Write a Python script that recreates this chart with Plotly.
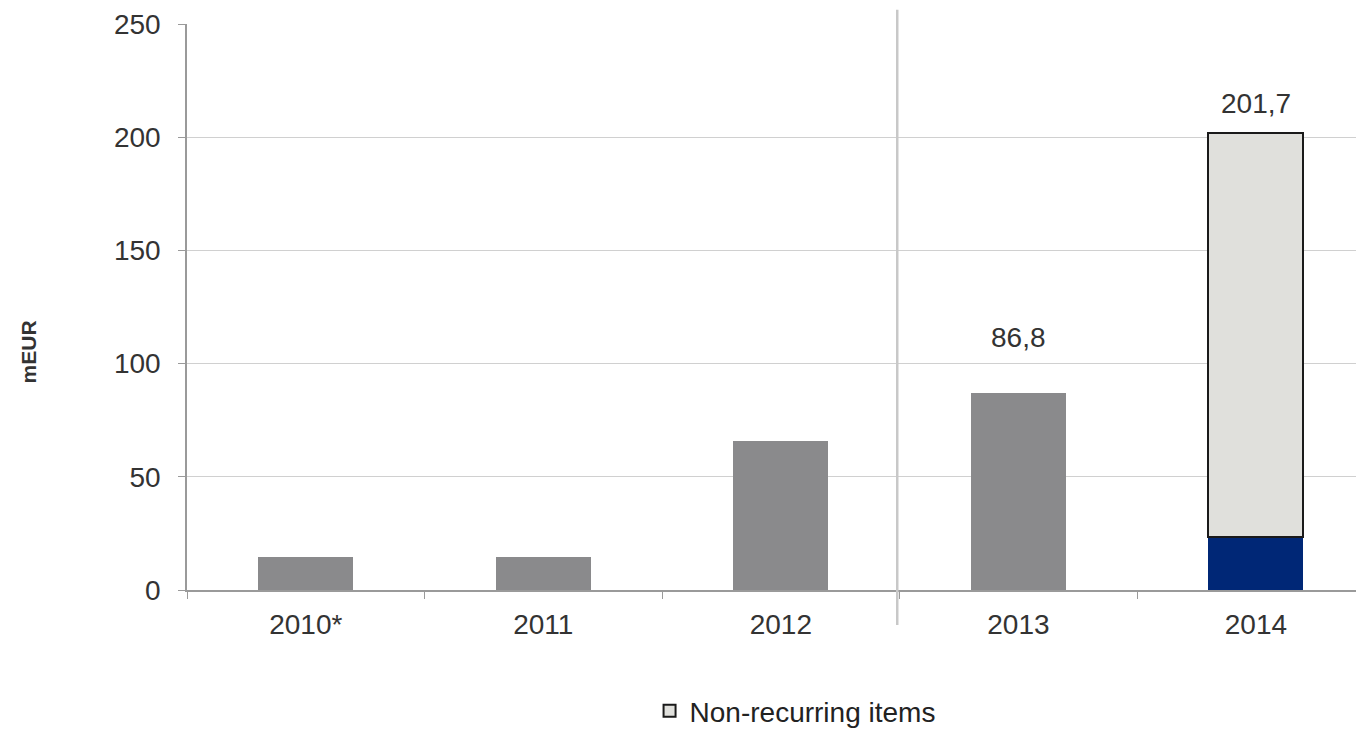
import plotly.graph_objects as go

# values (mEUR)
years = ["2010*", "2011", "2012", "2013", "2014"]
recurring = [14.5, 14.5, 66.0, 86.8, 23.4]
non_recurring = [None, None, None, None, 178.3]
totals = [None, None, None, 86.8, 201.7]
total_labels = ["", "", "", "86,8", "201,7"]

bar_colors = ["#8a8a8c", "#8a8a8c", "#8a8a8c", "#8a8a8c", "#002776"]

FONT = "Liberation Sans, Arial, sans-serif"
FS = 28

fig = go.Figure()

fig.add_trace(go.Bar(
    x=years, y=recurring, name="Recurring",
    marker=dict(color=bar_colors, line=dict(width=0)),
    width=0.4, showlegend=False,
))
fig.add_trace(go.Bar(
    x=years, y=non_recurring, name="Non-recurring items",
    marker=dict(color="#e0e0dc", line=dict(color="#1a1a1a", width=2)),
    width=0.4, showlegend=True,
))

# value labels above the 2013 and 2014 bars
offsets = [0, 0, 0, 56, 30]
for i, (tot, lab, off) in enumerate(zip(totals, total_labels, offsets)):
    if tot is None:
        continue
    fig.add_annotation(x=i, y=tot, xref="x", yref="y", text=lab, showarrow=False,
                       yshift=off, font=dict(size=FS, color="#333333"))

# y axis title as an annotation (it sits below the middle of the axis)
fig.add_annotation(x=-0.135, y=0.42, xref="paper", yref="paper", text="<b>mEUR</b>",
                   textangle=-90, showarrow=False, xanchor="center", yanchor="middle",
                   font=dict(size=21, color="#333333"))

# separator between 2012 and 2013
fig.add_shape(type="line", xref="x", yref="paper", x0=2.49, x1=2.49,
              y0=-0.062, y1=1.025, line=dict(color="#c8c8c8", width=2.5))

# page body adds ~8px offset, so figure is made a bit smaller
fig.update_layout(
    width=1356, height=721,
    barmode="stack",
    plot_bgcolor="white", paper_bgcolor="white",
    margin=dict(l=179, r=0, t=16, b=139),
    font=dict(family=FONT, size=FS, color="#333333"),
    legend=dict(orientation="h", x=0.393, xanchor="left",
                yref="container", y=0.025, yanchor="middle",
                font=dict(size=FS, color="#222222"), itemwidth=30),
)

fig.update_xaxes(
    type="category", range=[-0.5, 4.455],
    showline=True, linecolor="#9a9a9a", linewidth=1.5,
    ticks="outside", tickson="boundaries", ticklen=7, tickcolor="#9a9a9a",
    ticklabelstandoff=9,
    showgrid=False, tickfont=dict(size=FS, color="#333333"),
)
fig.update_yaxes(
    range=[0, 250], dtick=50,
    showline=True, linecolor="#9a9a9a", linewidth=1.5,
    ticks="outside", ticklen=7, tickcolor="#9a9a9a",
    ticklabelstandoff=12,
    gridcolor="#d0d0d0", gridwidth=1.2,
    zeroline=False,
    tickfont=dict(size=FS, color="#333333"),
)

fig.write_html("out.html")
